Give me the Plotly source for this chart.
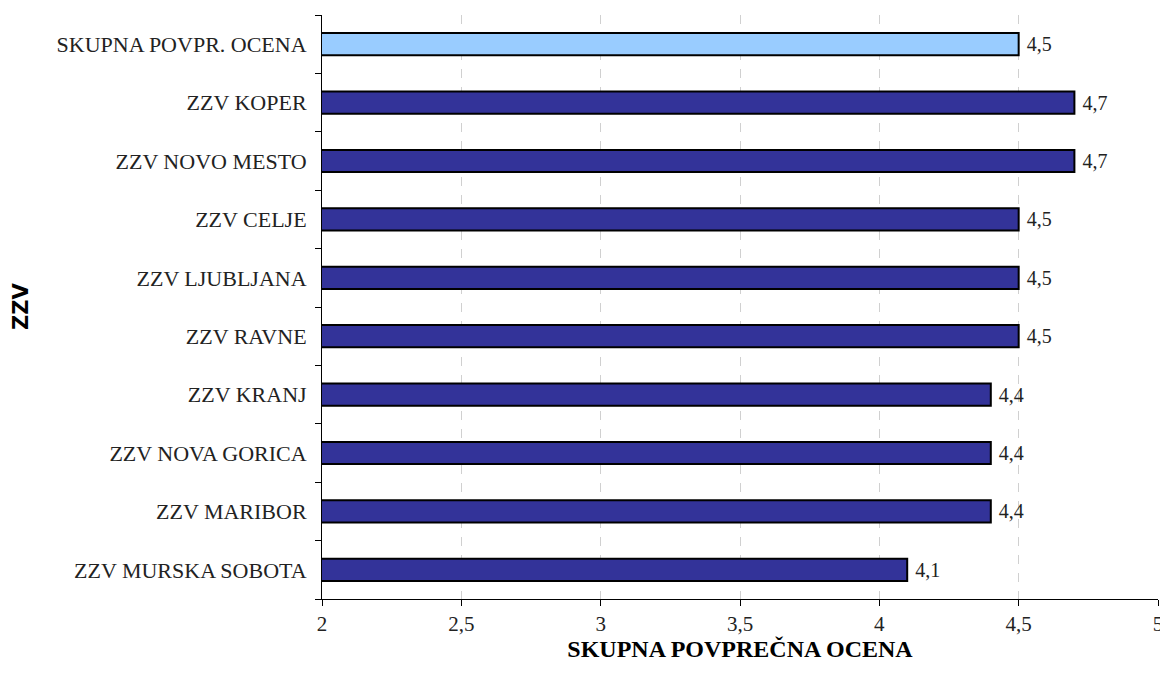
import plotly.graph_objects as go

categories = ["SKUPNA POVPR. OCENA", "ZZV KOPER", "ZZV NOVO MESTO", "ZZV CELJE",
              "ZZV LJUBLJANA", "ZZV RAVNE", "ZZV KRANJ", "ZZV NOVA GORICA",
              "ZZV MARIBOR", "ZZV MURSKA SOBOTA"]
values = [4.5, 4.7, 4.7, 4.5, 4.5, 4.5, 4.4, 4.4, 4.4, 4.1]
bar_colors = ["#99CCFF"] + ["#333399"] * 9
x_ticks = [2, 2.5, 3, 3.5, 4, 4.5, 5]
x_ticktext = ["2", "2,5", "3", "3,5", "4", "4,5", "5"]

serif = "Liberation Serif, Times New Roman, serif"
FS = 22

fig = go.Figure(go.Bar(
    x=values, y=categories, orientation="h",
    marker=dict(color=bar_colors, line=dict(color="black", width=2)),
    width=0.38,
    text=["\u00a0" + f"{v:.1f}".replace(".", ",") for v in values],
    textposition="outside", cliponaxis=False,
    textfont=dict(family=serif, size=20, color="#222"),
))

# page body has an 8px default margin; figure sized so the page does not overflow
W, H = 1160, 672
L, R, T, B = 314, 10, 7, 81
fig.update_layout(
    width=W, height=H,
    margin=dict(l=L, r=R, t=T, b=B, autoexpand=False),
    plot_bgcolor="white", paper_bgcolor="white",
    showlegend=False,
    font=dict(family=serif, size=FS, color="#222"),
    xaxis=dict(
        range=[2, 5], tickvals=x_ticks, ticktext=x_ticktext,
        showgrid=True, gridcolor="#d0d0d0", griddash="dash", gridwidth=1,
        showline=True, linecolor="black", linewidth=1,
        ticks="outside", ticklen=6, tickcolor="black",
        tickfont=dict(family=serif, size=21, color="#222"),
        zeroline=False, automargin=False,
        title=dict(text="<b>SKUPNA POVPREČNA OCENA</b>", standoff=3,
                   font=dict(family=serif, size=24, color="black")),
    ),
    yaxis=dict(
        categoryorder="array", categoryarray=categories[::-1],
        showline=True, linecolor="black", linewidth=1,
        ticks="outside", ticklen=6, tickcolor="black", tickson="boundaries",
        tickfont=dict(family=serif, size=FS, color="#222"),
        ticklabelstandoff=10, automargin=False,
        showgrid=False,
    ),
)
plot_w = W - L - R
plot_h = H - T - B
fig.add_annotation(
    text="<b>ZZV</b>", x=(13 - L) / plot_w, y=(H - B - 299) / plot_h,
    xref="paper", yref="paper", xanchor="center", yanchor="middle",
    showarrow=False, textangle=-90,
    font=dict(family="DejaVu Sans, Verdana, sans-serif", size=21, color="black"),
)

fig.write_html("out.html")
